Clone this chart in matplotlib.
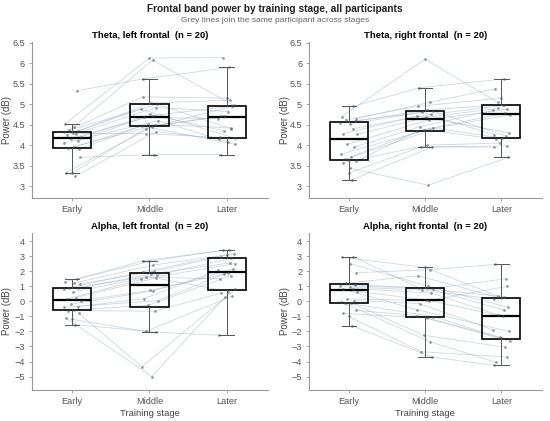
import numpy as np
import matplotlib
matplotlib.use("Agg")
import matplotlib.pyplot as plt

plt.rcParams['font.family'] = ['Liberation Sans', 'DejaVu Sans']

stages = ["Early", "Middle", "Later"]

# -- per participant values (Early, Middle, Later)
theta_left = [
    [5.33, 5.62, 5.90], [4.52, 6.13, 6.14], [4.45, 6.08, 4.97], [3.70, 3.77, 3.77],
    [4.37, 5.18, 5.15], [4.34, 5.03, 5.10], [4.32, 5.00, 4.40], [4.29, 4.28, 4.19],
    [4.28, 4.92, 4.82], [4.25, 4.88, 4.17], [4.20, 4.75, 4.35], [4.16, 4.72, 4.96],
    [4.10, 4.68, 4.65], [4.05, 4.60, 4.08], [3.95, 4.52, 4.42], [3.93, 4.48, 4.71],
    [3.90, 4.47, 4.02], [3.33, 4.45, 4.72], [3.32, 4.40, 4.95], [3.24, 4.33, 4.15],
]
theta_right = [
    [4.95, 5.40, 5.62], [4.70, 6.10, 5.05], [3.43, 3.02, 3.70], [4.65, 5.05, 5.38],
    [4.62, 4.95, 5.15], [4.58, 4.86, 4.99], [4.55, 4.84, 4.22], [4.52, 4.80, 4.25],
    [4.40, 4.75, 4.97], [4.28, 4.72, 4.30], [4.26, 4.68, 4.90], [4.02, 4.62, 4.88],
    [3.95, 4.45, 4.85], [3.78, 4.42, 4.17], [3.72, 4.38, 4.78], [3.65, 4.36, 4.15],
    [3.60, 4.34, 4.74], [3.57, 4.00, 4.05], [3.32, 3.96, 3.98], [3.15, 3.95, 3.95],
]
alpha_left = [
    [1.48, 2.70, 3.42], [1.30, 2.65, 3.40], [1.20, 2.40, 3.15], [1.15, 2.00, 2.95],
    [0.90, 1.95, 3.10], [0.86, 1.82, 2.55], [0.80, 1.75, 2.85], [0.62, 1.60, 1.50],
    [0.25, 1.55, 0.65], [0.15, 1.45, 2.50], [0.05, 0.72, 1.80], [-0.20, 0.70, 2.15],
    [-0.35, 0.18, 2.05], [-0.40, 0.05, 1.90], [-0.56, -0.27, 1.70], [-0.62, -0.65, 0.55],
    [-0.80, -4.35, 0.80], [-1.10, -5.00, 0.30], [-1.20, -2.00, 0.35], [-1.55, -2.05, -2.25],
]
alpha_right = [
    [2.95, 0.90, 0.30], [2.92, 2.25, 0.35], [2.50, 1.00, -0.40], [1.90, 2.10, 2.45],
    [1.20, 1.70, 0.20], [1.10, 0.88, -0.60], [1.05, 0.85, 1.50], [0.95, 0.75, 0.15],
    [0.85, 0.55, -1.00], [0.80, -0.55, -2.00], [0.65, 0.10, -0.92], [0.15, 0.05, 1.00],
    [0.05, -0.15, -1.90], [-0.05, -1.02, -2.44], [-0.10, -2.25, -3.05], [-0.14, -2.70, -4.05],
    [-0.60, -0.95, -2.65], [-0.80, -1.10, -2.40], [-1.00, -3.35, -3.70], [-1.62, -3.70, -4.25],
]

# fixed horizontal jitter used for the dots
jitter = [0.06, -0.09, 0.02, 0.10, -0.04, 0.08, -0.11, 0.01, 0.05, -0.07,
          0.11, -0.02, 0.07, -0.10, 0.03, -0.05, 0.09, -0.08, 0.00, 0.04]

panels = [
    ("Theta, left frontal  (n = 20)", theta_left),
    ("Theta, right frontal  (n = 20)", theta_right),
    ("Alpha, left frontal  (n = 20)", alpha_left),
    ("Alpha, right frontal  (n = 20)", alpha_right),
]

fig = plt.figure(figsize=(5.5, 4.21), dpi=100)
boxes = [
    [0.058, 0.530, 0.429, 0.371],
    [0.562, 0.530, 0.423, 0.371],
    [0.058, 0.074, 0.429, 0.373],
    [0.562, 0.074, 0.423, 0.373],
]

pos = np.array([1, 2, 3])
for i, (title, data) in enumerate(panels):
    ax = fig.add_axes(boxes[i])
    vals = np.array(data)
    jit = np.array(jitter)
    # jittered x for each stage
    xs = np.column_stack([pos[k] + np.roll(jit, 3 * k) for k in range(3)])
    for p in range(len(vals)):
        ax.plot(xs[p], vals[p], color="#9fb0c2", lw=0.6, alpha=0.5, zorder=1)
    ax.boxplot([vals[:, k] for k in range(3)], positions=pos, widths=0.5,
               showfliers=False, patch_artist=True,
               boxprops=dict(facecolor="none", edgecolor="black", lw=1.2),
               medianprops=dict(color="black", lw=1.6),
               whiskerprops=dict(color="#555555", lw=0.7),
               capprops=dict(color="#555555", lw=0.7), capwidths=0.19,
               zorder=2)
    for k in range(3):
        ax.scatter(xs[:, k], vals[:, k], s=4, color="#4a4f5a", alpha=0.55,
                   lw=0, zorder=3)

    ax.set_title(title, fontsize=6.8, fontweight="bold", pad=3)
    ax.set_xticks(pos)
    ax.set_xticklabels(stages)
    ax.set_xlim(0.48, 3.53)
    if i < 2:
        ax.set_ylim(2.71, 6.53)
        yt = [3, 3.5, 4, 4.5, 5, 5.5, 6, 6.5]
    else:
        ax.set_ylim(-5.88, 4.55)
        yt = [-5, -4, -3, -2, -1, 0, 1, 2, 3, 4]
    ax.set_yticks(yt)
    ax.set_yticklabels([("%g" % t).replace("-", "\u2212") for t in yt])
    ax.set_ylabel("Power (dB)", fontsize=6.9, color="#444444")
    lx = -0.085 if i % 2 == 0 else -0.082
    ax.yaxis.set_label_coords(lx, 0.5)
    if i >= 2:
        ax.set_xlabel("Training stage", fontsize=6.8, color="#444444", labelpad=2)
    for s in ["top", "right"]:
        ax.spines[s].set_visible(False)
    for s in ["left", "bottom"]:
        ax.spines[s].set_color("#999999")
        ax.spines[s].set_linewidth(0.8)
    ax.tick_params(colors="#999999", labelcolor="#555555", labelsize=6.6,
                   length=2.5, width=0.6, pad=2.5)

fig.text(0.5, 0.979, "Frontal band power by training stage, all participants",
         ha="center", va="center", fontsize=7.3, fontweight="bold", color="#222222")
fig.text(0.5, 0.952, "Grey lines join the same participant across stages",
         ha="center", va="center", fontsize=6.1, color="#666666")

plt.savefig("out.png", dpi=100)
